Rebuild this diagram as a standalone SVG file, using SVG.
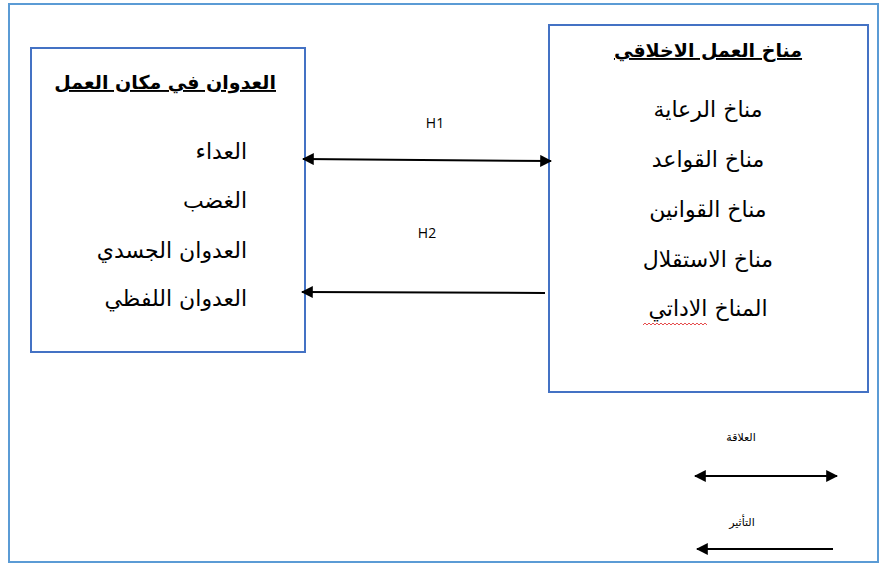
<svg xmlns="http://www.w3.org/2000/svg" width="883" height="565" viewBox="0 0 883 565">
<defs>
<style>
.frame{fill:#fff;stroke:#5b9bd5;stroke-width:2}
.box{fill:#fff;stroke:#4472c4;stroke-width:2}
.ar{font-family:"DejaVu Sans","Noto Sans",sans-serif;font-size:22px;fill:#000}
.title{font-size:19px;font-weight:bold;text-decoration:underline}
.lab{font-family:"Open Sans","Liberation Sans",sans-serif;font-size:14px;fill:#000}
.sm{font-family:"DejaVu Sans",sans-serif;font-size:11px;fill:#000}
.con{stroke:#000;stroke-width:2;fill:none}
</style>
<marker id="ah" viewBox="0 0 10 10" refX="9" refY="5" markerWidth="6" markerHeight="6" orient="auto-start-reverse" markerUnits="strokeWidth">
<path d="M0,0 L10,5 L0,10 z" fill="#000"/>
</marker>
</defs>
<rect x="0" y="0" width="883" height="565" fill="#fff"/>
<rect class="frame" x="9" y="4" width="869" height="558"/>
<g id="node-aggression">
<rect class="box" x="31" y="48" width="274" height="304"/>
<text class="ar title" x="276" y="89" text-anchor="end">العدوان في مكان العمل</text>
<text class="ar" x="247" y="159" text-anchor="end">العداء</text>
<text class="ar" x="247" y="208" text-anchor="end">الغضب</text>
<text class="ar" x="247" y="258" text-anchor="end">العدوان الجسدي</text>
<text class="ar" x="247" y="306" text-anchor="end">العدوان اللفظي</text>
</g>
<g id="node-climate">
<rect class="box" x="549" y="25" width="319" height="367"/>
<text class="ar title" x="708" y="57" text-anchor="middle">مناخ العمل الاخلاقي</text>
<text class="ar" x="708" y="117" text-anchor="middle">مناخ الرعاية</text>
<text class="ar" x="708" y="167" text-anchor="middle">مناخ القواعد</text>
<text class="ar" x="708" y="217" text-anchor="middle">مناخ القوانين</text>
<text class="ar" x="708" y="267" text-anchor="middle">مناخ الاستقلال</text>
<text class="ar" x="708" y="316" text-anchor="middle">المناخ الاداتي</text>
<path d="M643,325 l2,-2 l2,2 l2,-2 l2,2 l2,-2 l2,2 l2,-2 l2,2 l2,-2 l2,2 l2,-2 l2,2 l2,-2 l2,2 l2,-2 l2,2 l2,-2 l2,2 l2,-2 l2,2 l2,-2 l2,2 l2,-2 l2,2 l2,-2 l2,2 l2,-2 l2,2 l2,-2 l2,2 l2,-2 l2,2" fill="none" stroke="#e02020" stroke-width="0.8"/>
</g>
<g id="connectors">
<line class="con" x1="303" y1="159" x2="551" y2="161" marker-start="url(#ah)" marker-end="url(#ah)"/>
<text class="lab" x="435" y="128" text-anchor="middle">H1</text>
<line class="con" x1="545" y1="293" x2="302" y2="292" marker-end="url(#ah)"/>
<text class="lab" x="427" y="238" text-anchor="middle">H2</text>
</g>
<g id="legend">
<text class="sm" x="741" y="441" text-anchor="middle">العلاقة</text>
<line class="con" x1="695" y1="476" x2="837" y2="476" marker-start="url(#ah)" marker-end="url(#ah)"/>
<text class="sm" x="742" y="526" text-anchor="middle">التأثير</text>
<line class="con" x1="833" y1="549" x2="697" y2="549" marker-end="url(#ah)"/>
</g>
</svg>
